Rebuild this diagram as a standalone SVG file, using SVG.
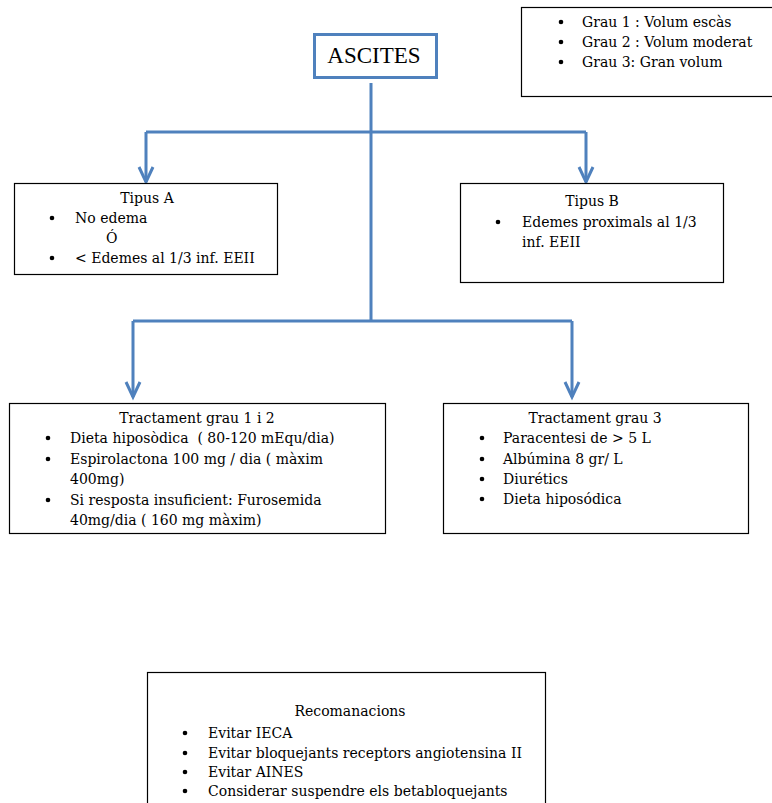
<svg xmlns="http://www.w3.org/2000/svg" width="772" height="803" viewBox="0 0 772 803">
<style>
.box{fill:#fff;stroke:#000;stroke-width:1.2}
.t{font-family:"DejaVu Serif",serif;font-size:14px;fill:#000}
.c{text-anchor:middle}
.conn{fill:none;stroke:#4F81BD;stroke-width:3}
.ah{fill:none;stroke:#4F81BD;stroke-width:3;stroke-linejoin:miter}
.b{fill:#000}
</style>
<rect width="772" height="803" fill="#fff"/>
<g id="connectors">
<path class="conn" d="M371 83 V321 M146 132 H586 M146 132 V182 M586 132 V182 M133 321 H572 M133 321 V397 M572 321 V397"/>
<path class="ah" d="M139 167 L146 182 L153 167 M579 167 L586 182 L593 167 M126 382 L133 397 L140 382 M565 382 L572 397 L579 382"/>
</g>
<g id="ascites">
<rect x="314.5" y="34.5" width="122" height="43" fill="#fff" stroke="#4F81BD" stroke-width="3"/>
<text class="c" x="374" y="63" style="font-family:'Liberation Serif',serif;font-size:23px">ASCITES</text>
</g>
<g id="graus">
<rect class="box" x="521.5" y="7.5" width="252" height="89"/>
<circle class="b" cx="561" cy="22" r="2.3"/><text class="t" x="582" y="27">Grau 1 : Volum escàs</text>
<circle class="b" cx="561" cy="42" r="2.3"/><text class="t" x="582" y="47">Grau 2 : Volum moderat</text>
<circle class="b" cx="561" cy="62" r="2.3"/><text class="t" x="582" y="67">Grau 3: Gran volum</text>
</g>
<g id="tipusA">
<rect class="box" x="14.5" y="183.5" width="263" height="91"/>
<text class="t c" x="147" y="203">Tipus A</text>
<circle class="b" cx="52" cy="218" r="2.3"/><text class="t" x="75" y="223">No edema</text>
<text class="t" x="106" y="243">Ó</text>
<circle class="b" cx="52" cy="258" r="2.3"/><text class="t" x="75" y="263">&lt; Edemes al 1/3 inf. EEII</text>
</g>
<g id="tipusB">
<rect class="box" x="460.5" y="183.5" width="263" height="99"/>
<text class="t c" x="592" y="206">Tipus B</text>
<circle class="b" cx="498" cy="222" r="2.3"/><text class="t" x="522" y="227">Edemes proximals al 1/3</text>
<text class="t" x="522" y="247">inf. EEII</text>
</g>
<g id="tract12">
<rect class="box" x="9.5" y="403.5" width="376" height="130"/>
<text class="t c" x="197" y="423">Tractament grau 1 i 2</text>
<circle class="b" cx="48" cy="438" r="2.3"/><text class="t" x="70" y="443">Dieta hiposòdica&#160; ( 80-120 mEqu/dia)</text>
<circle class="b" cx="48" cy="459" r="2.3"/><text class="t" x="70" y="464">Espirolactona 100 mg / dia ( màxim</text>
<text class="t" x="70" y="484">400mg)</text>
<circle class="b" cx="48" cy="500" r="2.3"/><text class="t" x="70" y="505">Si resposta insuficient: Furosemida</text>
<text class="t" x="70" y="525">40mg/dia ( 160 mg màxim)</text>
</g>
<g id="tract3">
<rect class="box" x="443.5" y="403.5" width="305" height="130"/>
<text class="t c" x="595" y="423">Tractament grau 3</text>
<circle class="b" cx="482" cy="438" r="2.3"/><text class="t" x="503" y="443">Paracentesi de &gt; 5 L</text>
<circle class="b" cx="482" cy="459" r="2.3"/><text class="t" x="503" y="464">Albúmina 8 gr/ L</text>
<circle class="b" cx="482" cy="479" r="2.3"/><text class="t" x="503" y="484">Diurétics</text>
<circle class="b" cx="482" cy="499" r="2.3"/><text class="t" x="503" y="504">Dieta hiposódica</text>
</g>
<g id="recomanacions">
<rect class="box" x="147.5" y="672.5" width="398" height="140"/>
<text class="t c" x="350" y="716">Recomanacions</text>
<circle class="b" cx="185" cy="733" r="2.3"/><text class="t" x="208" y="738">Evitar IECA</text>
<circle class="b" cx="185" cy="753" r="2.3"/><text class="t" x="208" y="758">Evitar bloquejants receptors angiotensina II</text>
<circle class="b" cx="185" cy="772" r="2.3"/><text class="t" x="208" y="777">Evitar AINES</text>
<circle class="b" cx="185" cy="791" r="2.3"/><text class="t" x="208" y="796">Considerar suspendre els betabloquejants</text>
</g>
</svg>
